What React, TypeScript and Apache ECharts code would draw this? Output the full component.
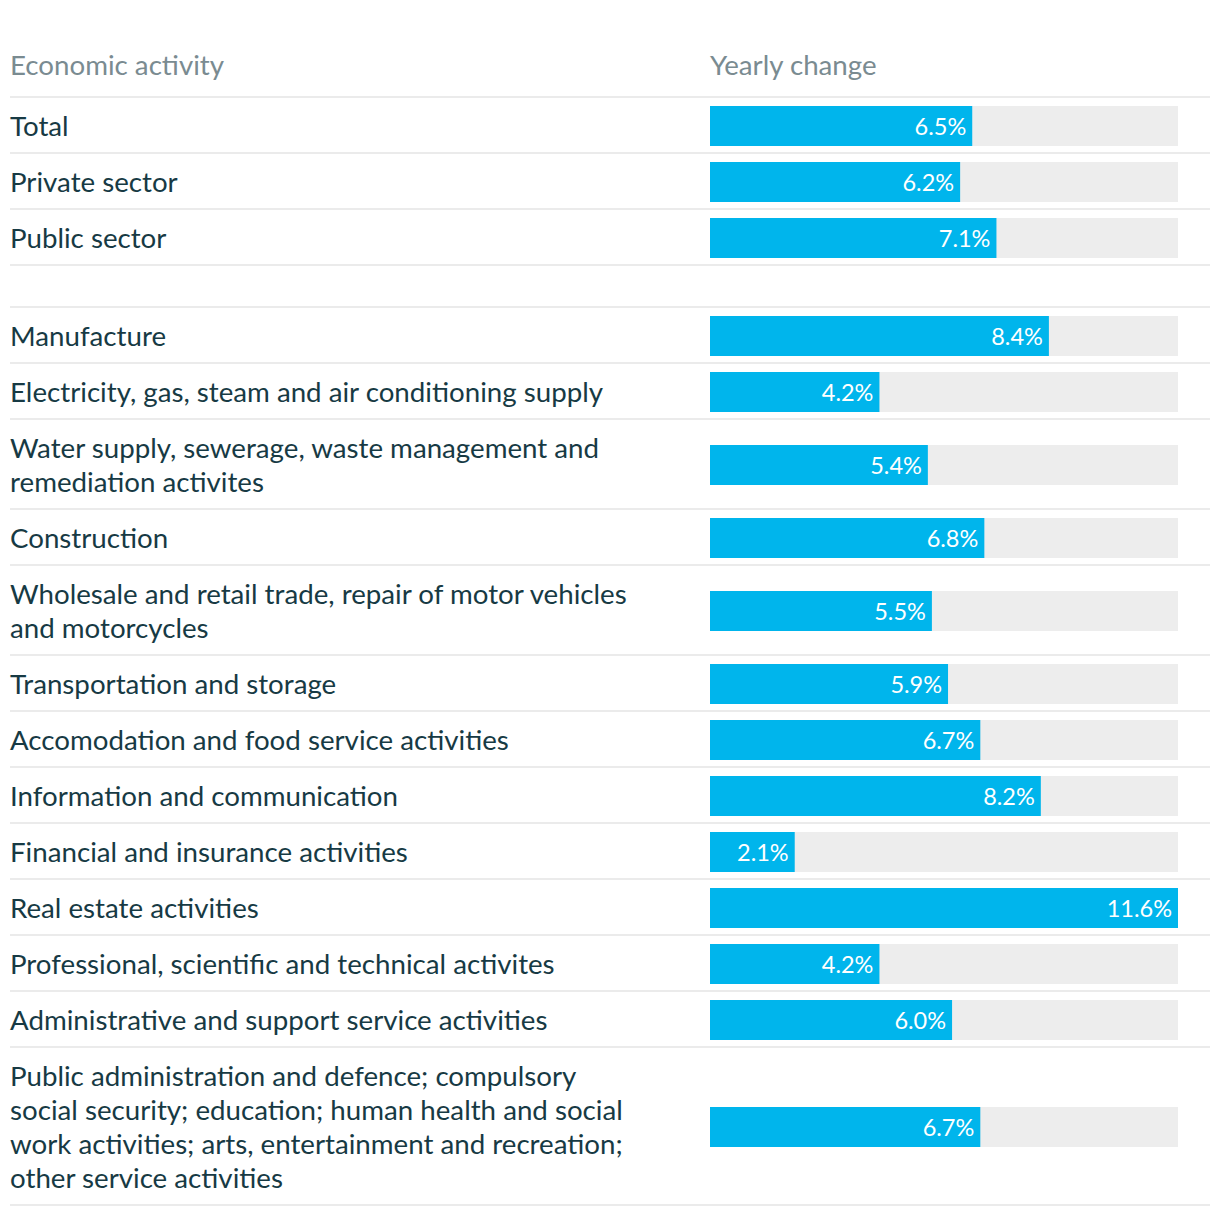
import React, { useEffect, useRef } from "react";
import * as echarts from "echarts";

const headerLeft = "Economic activity";
const headerRight = "Yearly change";

const categories = [
  "Total",
  "Private sector",
  "Public sector",
  "Manufacture",
  "Electricity, gas, steam and air conditioning supply",
  "Water supply, sewerage, waste management and\nremediation activites",
  "Construction",
  "Wholesale and retail trade, repair of motor vehicles\nand motorcycles",
  "Transportation and storage",
  "Accomodation and food service activities",
  "Information and communication",
  "Financial and insurance activities",
  "Real estate activities",
  "Professional, scientific and technical activites",
  "Administrative and support service activities",
  "Public administration and defence; compulsory\nsocial security; education; human health and social\nwork activities; arts, entertainment and recreation;\nother service activities",
];

const values = [6.5, 6.2, 7.1, 8.4, 4.2, 5.4, 6.8, 5.5, 5.9, 6.7, 8.2, 2.1, 11.6, 4.2, 6.0, 6.7];

// index after which a blank spacer row appears
const groupBreakAfter = 2;

const TEXT = "#173a44";
const HEAD = "#7a8b91";
const BAR = "#00b5ec";
const TRACK = "#ededed";
const RULE = "#ebebeb";
const FONT = "Lato, 'Open Sans', sans-serif";

export default function App() {
  const ref = useRef<HTMLDivElement>(null);

  useEffect(() => {
    document.body.style.margin = "0";
    if (!ref.current) return;
    const chart = echarts.init(ref.current, undefined, { renderer: "svg" });

    const maxVal = Math.max(...values);
    const grids: any[] = [];
    const xAxes: any[] = [];
    const yAxes: any[] = [];
    const series: any[] = [];
    const graphics: any[] = [];

    const left = 10;
    const right = 1210;
    const barLeft = 710;
    const barWidth = 468;
    const barH = 40;
    const lineH = 34;
    const fontSize = 27.7;

    graphics.push({
      type: "text",
      x: left,
      y: 64,
      style: { text: headerLeft, fill: HEAD, fontSize, fontFamily: FONT, verticalAlign: "middle" },
    });
    graphics.push({
      type: "text",
      x: barLeft,
      y: 64,
      style: { text: headerRight, fill: HEAD, fontSize, fontFamily: FONT, verticalAlign: "middle" },
    });

    let y = 97;
    const rules: number[] = [y];
    categories.forEach((name, i) => {
      const nLines = name.split("\n").length;
      const h = 22 + lineH * nLines;
      const cy = y + h / 2;
      grids.push({ left: barLeft, width: barWidth, top: cy + 1 - barH / 2, height: barH, containLabel: false });
      xAxes.push({ type: "value", gridIndex: i, min: 0, max: maxVal, show: false });
      yAxes.push({ type: "category", gridIndex: i, data: [name], show: false });
      series.push({
        type: "bar",
        xAxisIndex: i,
        yAxisIndex: i,
        data: [values[i]],
        barWidth: barH,
        showBackground: true,
        backgroundStyle: { color: TRACK },
        itemStyle: { color: BAR },
        label: {
          show: true,
          position: "insideRight",
          distance: 6,
          color: "#ffffff",
          fontSize: 23.5,
          fontFamily: FONT,
          formatter: (p: any) => Number(p.value).toFixed(1) + "%",
        },
      });
      graphics.push({
        type: "text",
        x: left,
        y: cy,
        style: {
          text: name,
          fill: TEXT,
          fontSize,
          fontFamily: FONT,
          lineHeight: lineH,
          verticalAlign: "middle",
        },
      });
      y += h;
      rules.push(y);
      if (i === groupBreakAfter) {
        y += 42;
        rules.push(y);
      }
    });

    rules.forEach((ry) => {
      graphics.push({
        type: "line",
        shape: { x1: left, y1: ry, x2: right, y2: ry },
        style: { stroke: RULE, lineWidth: 2 },
      });
    });

    chart.setOption({
      animation: false,
      backgroundColor: "#ffffff",
      grid: grids,
      xAxis: xAxes,
      yAxis: yAxes,
      series,
      graphic: graphics,
      tooltip: { show: false },
    });

    return () => chart.dispose();
  }, []);

  return <div ref={ref} style={{ width: 1220, height: 1216 }} />;
}
